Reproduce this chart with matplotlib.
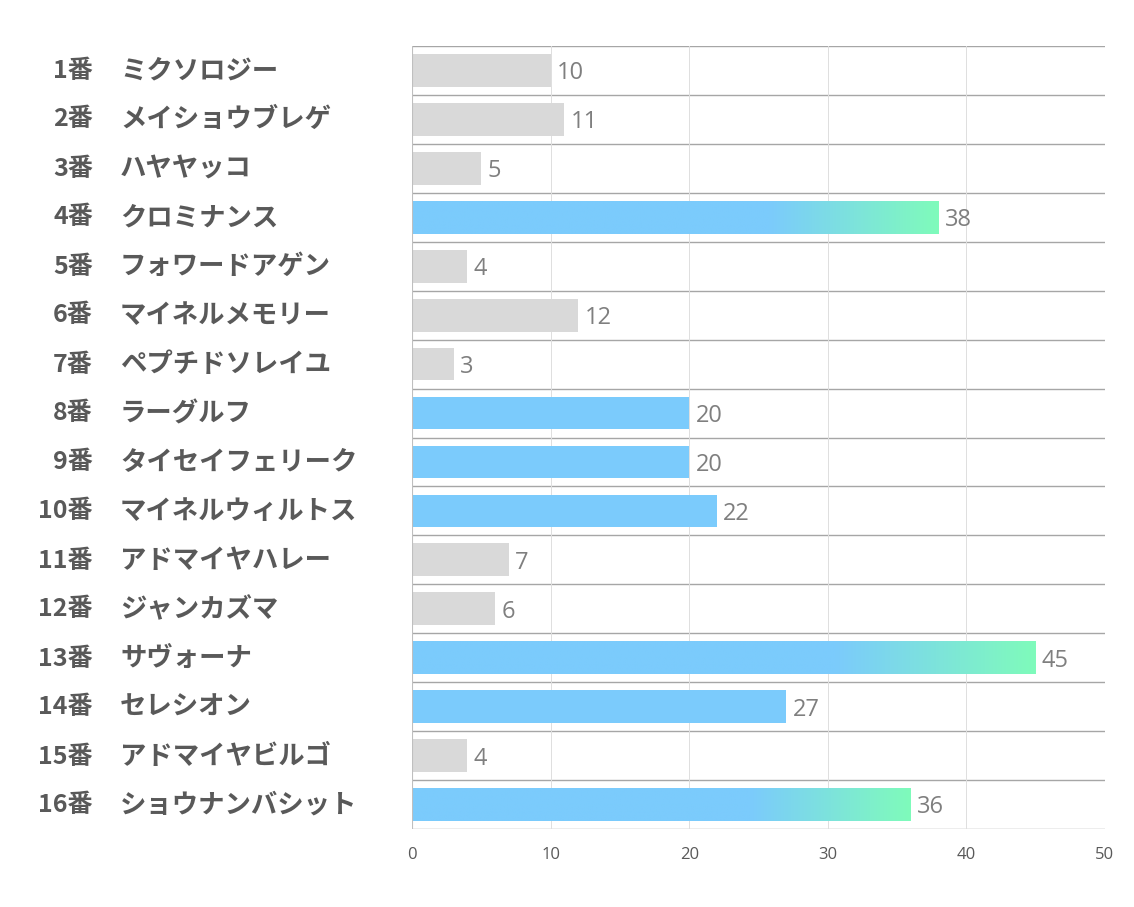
import numpy as np
import matplotlib.pyplot as plt
from matplotlib.colors import LinearSegmentedColormap

plt.rcParams['font.family'] = ['Noto Sans CJK JP', 'DejaVu Sans']

# Data
numbers = ['1番', '2番', '3番', '4番', '5番', '6番', '7番', '8番',
           '9番', '10番', '11番', '12番', '13番', '14番', '15番', '16番']
names = ['ミクソロジー', 'メイショウブレゲ', 'ハヤヤッコ', 'クロミナンス', 'フォワードアゲン',
         'マイネルメモリー', 'ペプチドソレイユ', 'ラーグルフ', 'タイセイフェリーク',
         'マイネルウィルトス', 'アドマイヤハレー', 'ジャンカズマ', 'サヴォーナ',
         'セレシオン', 'アドマイヤビルゴ', 'ショウナンバシット']
values = [10, 11, 5, 38, 4, 12, 3, 20, 20, 22, 7, 6, 45, 27, 4, 36]
styles = ['gray', 'gray', 'gray', 'grad', 'gray', 'gray', 'gray', 'blue',
          'blue', 'blue', 'gray', 'gray', 'grad', 'blue', 'gray', 'grad']
xticks = [0, 10, 20, 30, 40, 50]

GRAY = '#d9d9d9'
BLUE = '#7bcbfc'
GREEN = '#7ffbbb'
grad_cmap = LinearSegmentedColormap.from_list(
    'bg', [(0, BLUE), (0.68, BLUE), (1.0, GREEN)])

fig = plt.figure(figsize=(11.34, 9.07), dpi=100)
ax = fig.add_axes([412 / 1134, 1 - 829 / 907, 693 / 1134, 783 / 907])

n = len(values)
h = 0.67
for i, (v, s) in enumerate(zip(values, styles)):
    y = i + 0.5
    if s == 'grad':
        grad = np.linspace(0, 1, 256).reshape(1, -1)
        ax.imshow(grad, cmap=grad_cmap, aspect='auto',
                  extent=(0, v, y + h / 2, y - h / 2), zorder=2)
    else:
        ax.barh(y, v, height=h, color=GRAY if s == 'gray' else BLUE,
                zorder=2)
    ax.text(v + 0.45, y + 0.06, str(v), va='center', ha='left',
            fontsize=17, color='#7f7f7f', family=['Open Sans', 'DejaVu Sans'])

ax.set_xlim(0, 50)
ax.set_ylim(n, 0)

# row separators and vertical grid
for b in range(n + 1):
    ax.axhline(b, color='#a6a6a6', lw=1, zorder=1)
for t in xticks[1:]:
    ax.axvline(t, color='#dedede', lw=0.7, zorder=1)

for sp in ax.spines.values():
    sp.set_visible(False)
ax.axvline(0, color='#bfbfbf', lw=0.8, zorder=3)

ax.set_xticks(xticks)
ax.set_xticklabels([str(t) for t in xticks], fontsize=12, color='#595959',
                   family=['Open Sans', 'DejaVu Sans'])
ax.tick_params(axis='x', length=0, pad=13)
ax.set_yticks([])

# row labels
for i, (num, name) in enumerate(zip(numbers, names)):
    yf = 1 - (46 + 49 * (i + 0.5)) / 907
    fig.text(93 / 1134, yf, num, ha='right', va='center', fontsize=18,
             fontweight='bold', color='#595959')
    fig.text(120 / 1134, yf, name, ha='left', va='center', fontsize=19,
             fontweight='bold', color='#595959')

fig.savefig('out.png', dpi=100)
